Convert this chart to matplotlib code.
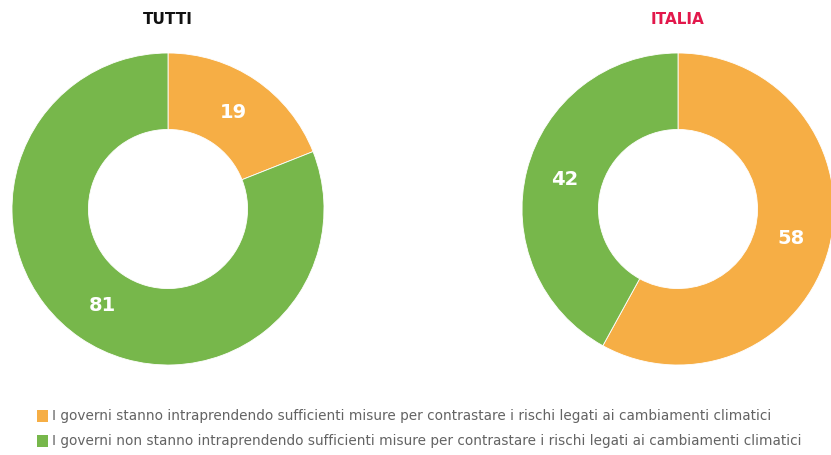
import matplotlib
matplotlib.use("Agg")
import numpy as np
import matplotlib.pyplot as plt
from matplotlib.patches import Rectangle

# Survey shares (%) for the two groups
groups = ["TUTTI", "ITALIA"]
title_colors = ["#111111", "#E2184B"]
sufficient = [19, 58]
not_sufficient = [81, 42]
legend_labels = [
    "I governi stanno intraprendendo sufficienti misure per contrastare i rischi legati ai cambiamenti climatici",
    "I governi non stanno intraprendendo sufficienti misure per contrastare i rischi legati ai cambiamenti climatici",
]
colors = ["#F6AE45", "#77B74B"]

W, H = 831, 455
fig = plt.figure(figsize=(W / 100, H / 100), dpi=100)

font = "DejaVu Sans"
radius_px = 156
centers = [(168, 209), (678, 209)]

for i, (cx, cy) in enumerate(centers):
    ax = fig.add_axes([(cx - radius_px) / W, (H - cy - radius_px) / H,
                       2 * radius_px / W, 2 * radius_px / H])
    vals = [sufficient[i], not_sufficient[i]]
    wedges, texts = ax.pie(vals, colors=colors, startangle=90, counterclock=False,
                           radius=1.0, wedgeprops=dict(width=0.49, edgecolor="white", linewidth=0.6))
    # value labels in the middle of the ring
    for w, v in zip(wedges, vals):
        ang = np.deg2rad((w.theta1 + w.theta2) / 2)
        ax.text(0.75 * np.cos(ang), 0.75 * np.sin(ang), f"{v}", ha="center", va="center",
                color="white", fontsize=14, fontweight="bold", family=font)
    ax.set_xlim(-1, 1)
    ax.set_ylim(-1, 1)
    ax.set_aspect("equal")
    ax.axis("off")
    fig.text(cx / W, 1 - 19 / H, groups[i], ha="center", va="center",
             color=title_colors[i], fontsize=11, fontweight="bold", family=font)

# Legend drawn as colour squares and text rows
for j, (lab, col) in enumerate(zip(legend_labels, colors)):
    y = 416 + j * 25
    fig.patches.append(Rectangle((37 / W, 1 - (y + 6) / H), 11 / W, 12 / H,
                                 transform=fig.transFigure, facecolor=col, edgecolor="none"))
    fig.text(52 / W, 1 - y / H, lab, ha="left", va="center", color="#636363",
             fontsize=9.8, family=font)

fig.savefig("out.png", dpi=100)
